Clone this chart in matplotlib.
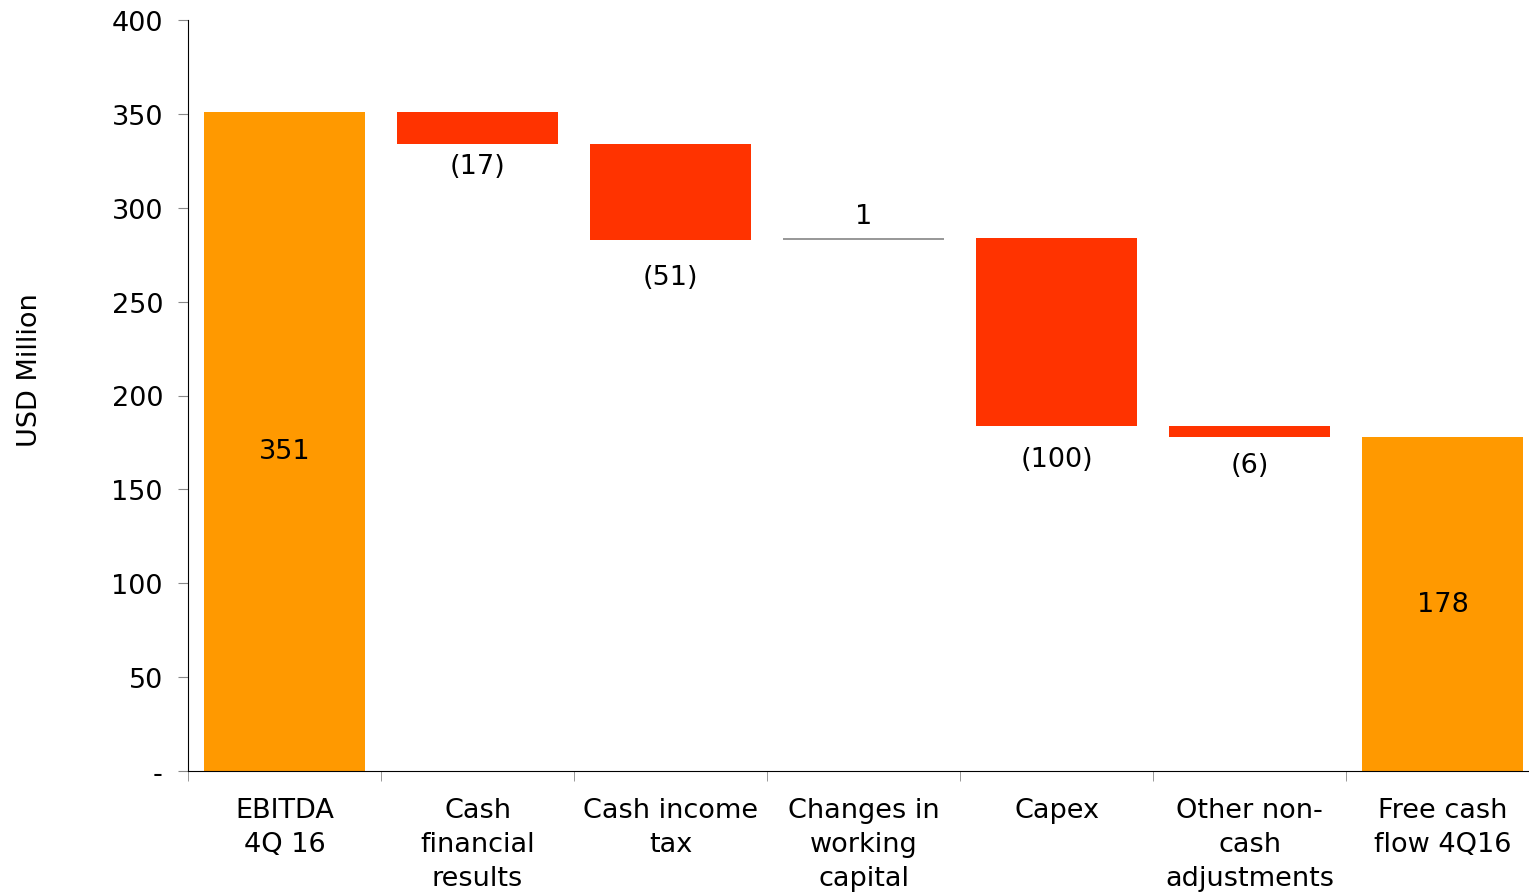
import matplotlib
matplotlib.use("Agg")
import matplotlib.pyplot as plt
import numpy as np

categories = ["EBITDA\n4Q 16", "Cash\nfinancial\nresults", "Cash income\ntax",
              "Changes in\nworking\ncapital", "Capex", "Other non-\ncash\nadjustments",
              "Free cash\nflow 4Q16"]
values = [351, -17, -51, 1, -100, -6, 178]
kinds = ["total", "delta", "delta", "delta", "delta", "delta", "total"]
labels = ["351", "(17)", "(51)", "1", "(100)", "(6)", "178"]

plt.rcParams['font.family'] = ['DejaVu Sans']
FS = 19.5

fig = plt.figure(figsize=(15.29, 8.95), dpi=100)
ax = fig.add_axes([188/1529, 123/895, 1351/1529, 751/895])

# label offsets in points (excel placed them a bit unevenly)
offs = [-7, -16, -27, 16, -24, -20, 0]

x = np.arange(len(categories))
run = 0
for i, (v, k, lab) in enumerate(zip(values, kinds, labels)):
    if k == "total":
        bottom, h = 0, v
        run = v
        col = "#FF9900"
        anchor = v / 2
    else:
        bottom = run + v if v < 0 else run
        h = abs(v)
        run = run + v
        col = "#FF3300" if v < 0 else "#999999"
        anchor = bottom if v < 0 else bottom + h
    ax.bar(i, h, bottom=bottom, width=0.83, color=col, linewidth=0)
    ax.annotate(lab, (i, anchor), xytext=(0, offs[i]), textcoords="offset points",
                ha="center", va="center", fontsize=FS)

ax.set_xlim(-0.5, len(categories) - 0.5)
ax.set_ylim(0, 400)
yt = np.arange(0, 401, 50)
ax.set_yticks(yt)
ax.set_yticklabels(["-"] + [str(t) for t in yt[1:]], fontsize=FS)
ax.set_xticks(x)
ax.set_xticklabels(categories, fontsize=FS, linespacing=1.38)
ax.tick_params(axis="x", length=0, pad=19)
ax.set_xticks(np.arange(-0.5, len(categories), 1), minor=True)
ax.tick_params(axis="x", which="minor", length=7, color="#888888")
ax.tick_params(axis="y", length=7, color="#888888", pad=11)
ax.spines["top"].set_visible(False)
ax.spines["right"].set_visible(False)
fig.text(30/1529, 1 - 370/895, "USD Million", rotation=90, ha="center", va="center", fontsize=FS)

fig.savefig("out.png", dpi=100)
